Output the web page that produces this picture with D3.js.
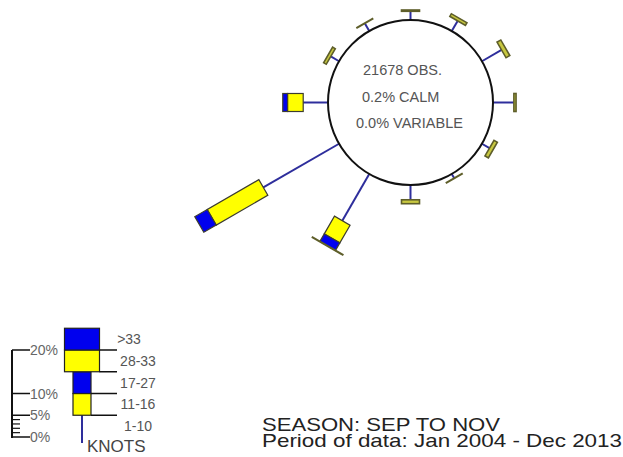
<!DOCTYPE html>
<html>
<head>
<meta charset="utf-8">
<script src="https://cdn.jsdelivr.net/npm/d3@7"></script>
<style>
  body { margin: 0; background: #fff; }
  svg { display: block; }
  text { font-family: "Liberation Sans", Arial, sans-serif; }
</style>
</head>
<body>
<svg id="chart" width="623" height="457"></svg>
<script>
// Wind directions (degrees clockwise from north)
const directions = [0, 30, 60, 90, 120, 150, 180, 210, 240, 270, 300, 330];
// Percent of observations per direction, by speed class (knots)
const pct1to10  = [2.0, 2.7, 5.2, 4.8, 2.0, 1.1, 3.4, 12.4, 20.1, 5.7, 2.2, 2.0];
const pct11to16 = [0.3, 0.7, 1.0, 0.5, 0.9, 0.1, 0.9, 4.7, 13.7, 3.6, 0.7, 0.1];
const pct17to27 = [0, 0, 0, 0, 0, 0, 0, 2.0, 3.3, 1.1, 0, 0];
const pct28to33 = [0, 0, 0, 0, 0, 0, 0, 0.1, 0, 0, 0, 0];
const pctOver33 = [0, 0, 0, 0, 0, 0, 0, 0, 0, 0, 0, 0];

const speedLabels = ["1-10", "11-16", "17-27", "28-33", ">33"];
const legendStep = 5;                 // each legend segment shows 5%
const scaleMajor = [0, 5, 10, 20];
const scaleMinor = [1, 2, 3, 4];
const centerLines = ["21678 OBS.", "0.2% CALM", "0.0% VARIABLE"];
const footerLines = ["SEASON: SEP TO NOV", "Period of data: Jan 2004 - Dec 2013"];

const BLUE = "#0000ee", YELLOW = "#ffff00", ARM = "#2e2e9c", EDGE = "#3c3c30";
const fills = [null, YELLOW, BLUE, YELLOW, BLUE];
const widths = [0, 18, 18, 35, 35];

const svg = d3.select("#chart");
const cx = 410.5, cy = 102.5, R = 82.5;

// percent -> pixel length
const len = d3.scaleLinear().domain([0, 20]).range([0, 87]);

const rows = directions.map((d, i) => ({
  dir: d,
  vals: [pct1to10[i], pct11to16[i], pct17to27[i], pct28to33[i], pctOver33[i]]
}));

// Arms
const arms = svg.append("g").selectAll("g").data(rows).join("g")
  .attr("transform", d => `translate(${cx},${cy}) rotate(${d.dir})`);

arms.append("line")
  .attr("x1", 0).attr("x2", 0)
  .attr("y1", -R)
  .attr("y2", d => -(R + len(d.vals[0])))
  .attr("stroke", ARM).attr("stroke-width", 2);

arms.each(function (d) {
  const g = d3.select(this);
  let start = R + len(d.vals[0]);
  for (let k = 1; k < 5; k++) {
    const v = d.vals[k];
    if (v <= 0) continue;
    const h = len(v);
    // very short yellow segments render mostly as outline
    const thin = h < 6 && fills[k] === YELLOW;
    g.append("rect")
      .attr("x", -widths[k] / 2)
      .attr("y", -(start + h))
      .attr("width", widths[k])
      .attr("height", h)
      .attr("fill", thin ? "#c8c840" : fills[k])
      .attr("stroke", thin ? "#5e5e2a" : EDGE)
      .attr("stroke-width", thin ? 1.6 : 1.2);
    start += h;
  }
});

// Circle with summary text
svg.append("circle")
  .attr("cx", cx).attr("cy", cy).attr("r", R)
  .attr("fill", "#fff").attr("stroke", "#111").attr("stroke-width", 2);

const centerX = [363, 362, 356];
const centerY = [75, 102, 128];
svg.append("g").selectAll("text").data(centerLines).join("text")
  .attr("x", (d, i) => centerX[i])
  .attr("y", (d, i) => centerY[i])
  .attr("font-size", 14.5)
  .attr("fill", "#555")
  .text(d => d);

// Legend: percentage scale
const zeroY = 437;
const lx = 12;
const scaleG = svg.append("g");
scaleG.append("line")
  .attr("x1", lx).attr("x2", lx)
  .attr("y1", zeroY + 1).attr("y2", zeroY - len(20))
  .attr("stroke", "#111").attr("stroke-width", 2);
scaleG.selectAll("line.major").data(scaleMajor).join("line")
  .attr("class", "major")
  .attr("x1", lx).attr("x2", lx + 18)
  .attr("y1", d => zeroY - len(d)).attr("y2", d => zeroY - len(d))
  .attr("stroke", "#111").attr("stroke-width", 1.5);
scaleG.selectAll("line.minor").data(scaleMinor).join("line")
  .attr("class", "minor")
  .attr("x1", lx).attr("x2", lx + 8)
  .attr("y1", d => zeroY - len(d)).attr("y2", d => zeroY - len(d))
  .attr("stroke", "#111").attr("stroke-width", 1.2);
scaleG.selectAll("text").data(scaleMajor).join("text")
  .attr("x", lx + 18)
  .attr("y", d => zeroY - len(d) + 5)
  .attr("font-size", 14)
  .attr("fill", "#666")
  .text(d => d + "%");

// Legend: speed classes
const kx = 82;
const segY = k => zeroY - len(legendStep * k);
const leg = svg.append("g");
leg.append("line")
  .attr("x1", kx).attr("x2", kx)
  .attr("y1", zeroY + 6).attr("y2", segY(1))
  .attr("stroke", ARM).attr("stroke-width", 2);
for (let k = 1; k < 5; k++) {
  leg.append("rect")
    .attr("x", kx - widths[k] / 2)
    .attr("y", segY(k + 1))
    .attr("width", widths[k])
    .attr("height", segY(k) - segY(k + 1))
    .attr("fill", fills[k])
    .attr("stroke", "#222").attr("stroke-width", 1.2);
  leg.append("line")
    .attr("x1", kx + widths[k] / 2).attr("x2", 117)
    .attr("y1", segY(k)).attr("y2", segY(k))
    .attr("stroke", "#111").attr("stroke-width", 1.5);
}
leg.selectAll("text.cls").data(speedLabels).join("text")
  .attr("class", "cls")
  .attr("x", (d, i) => i === 4 ? 129 : 138)
  .attr("text-anchor", "middle")
  .attr("y", (d, i) => (segY(i) + segY(i + 1)) / 2 + 5)
  .attr("font-size", 14)
  .attr("fill", "#555")
  .text(d => d);
leg.append("text")
  .attr("x", 87).attr("y", 452)
  .attr("font-size", 17)
  .attr("fill", "#444")
  .text("KNOTS");

// Footer
const footerWidth = [238, 360];
svg.append("g").selectAll("text").data(footerLines).join("text")
  .attr("x", 262)
  .attr("y", (d, i) => 431 + i * 16)
  .attr("font-size", 19)
  .attr("textLength", (d, i) => footerWidth[i])
  .attr("lengthAdjust", "spacingAndGlyphs")
  .attr("fill", "#222")
  .text(d => d);
</script>
</body>
</html>
